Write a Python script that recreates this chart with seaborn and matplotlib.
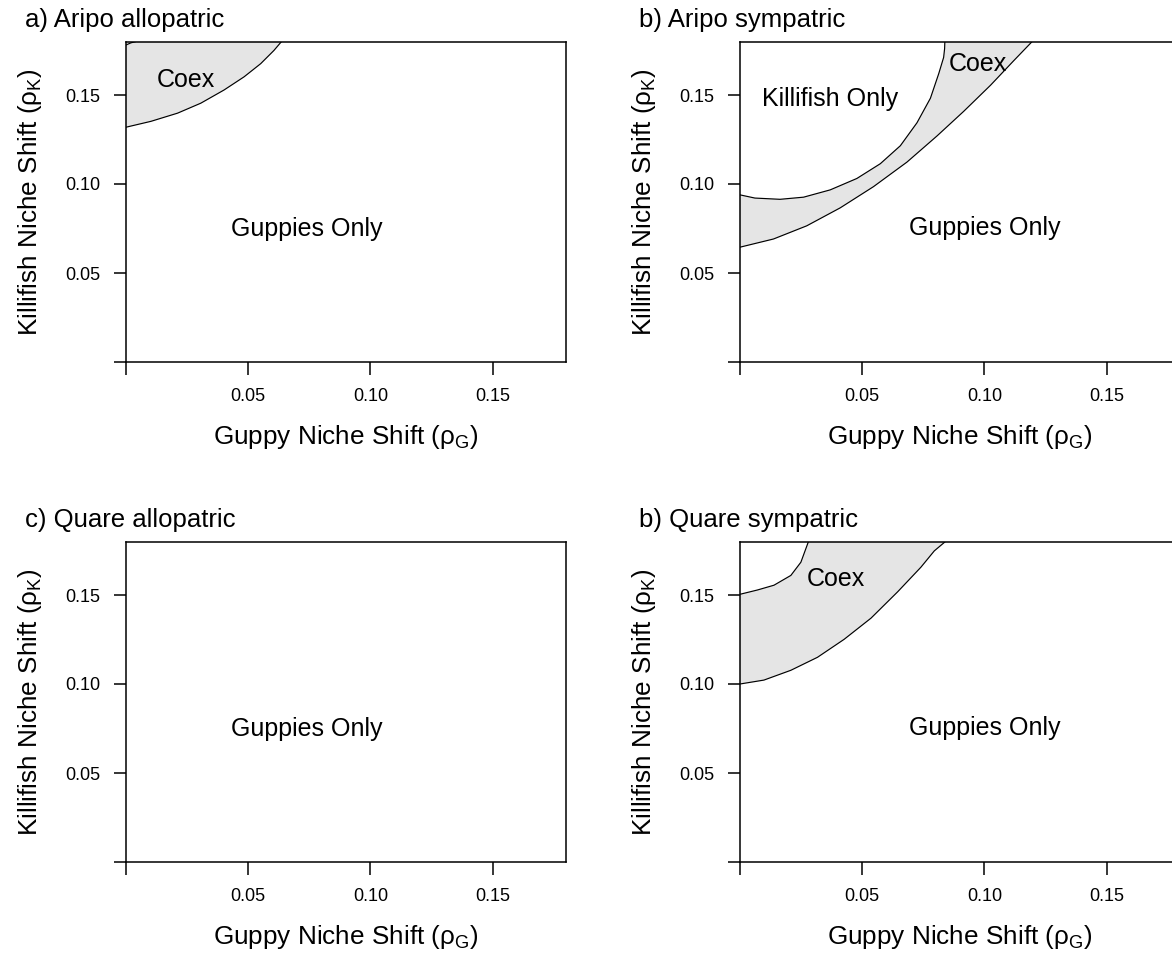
import numpy as np
import matplotlib
matplotlib.use("Agg")
import matplotlib.pyplot as plt
import seaborn as sns

# boundaries of the coexistence region
# a) Aripo allopatric: lower edge of Coex, plus tiny corner at top-left
A_LOW_X = [0.0, 0.0102, 0.0211, 0.0306, 0.0401, 0.0483, 0.0551, 0.0605, 0.0636]
A_LOW_Y = [0.1319, 0.1352, 0.1398, 0.1454, 0.1528, 0.1602, 0.1676, 0.1750, 0.1800]
A_CORNER_X = [0.0, 0.002, 0.004]
A_CORNER_Y = [0.1781, 0.1793, 0.1800]

# b) Aripo sympatric
B_INNER_X = [0.0, 0.0061, 0.0164, 0.0260, 0.0369, 0.0478, 0.0574, 0.0656,
             0.0724, 0.0779, 0.0813, 0.0833, 0.0837, 0.0838]
B_INNER_Y = [0.0939, 0.0921, 0.0914, 0.0926, 0.0967, 0.1031, 0.1114, 0.1215,
             0.1344, 0.1482, 0.1620, 0.1711, 0.1760, 0.1800]
B_OUTER_X = [0.0, 0.0137, 0.0273, 0.0410, 0.0546, 0.0683, 0.0806, 0.0915,
             0.1025, 0.1120, 0.1195]
B_OUTER_Y = [0.0645, 0.0691, 0.0765, 0.0866, 0.0985, 0.1123, 0.1270, 0.1408,
             0.1555, 0.1693, 0.1800]

# d) Quare sympatric
D_INNER_X = [0.0, 0.0071, 0.0139, 0.0208, 0.0249, 0.0280]
D_INNER_Y = [0.1504, 0.1528, 0.1555, 0.1610, 0.1684, 0.1800]
D_OUTER_X = [0.0, 0.0098, 0.0208, 0.0317, 0.0426, 0.0536, 0.0645, 0.0740,
             0.0795, 0.0840]
D_OUTER_Y = [0.1000, 0.1022, 0.1077, 0.1150, 0.1251, 0.1370, 0.1518, 0.1656,
             0.1748, 0.1800]

TITLES = ["a) Aripo allopatric", "b) Aripo sympatric",
          "c) Quare allopatric", "b) Quare sympatric"]
TICKS = [0.0, 0.05, 0.10, 0.15]
TICK_LABELS = ["", "0.05", "0.10", "0.15"]

FILL = "#e5e5e5"
FS = 18

sns.set_theme(style="ticks")
plt.rcParams["font.family"] = ["Liberation Sans", "DejaVu Sans"]
plt.rcParams["axes.linewidth"] = 1.1
plt.rcParams["xtick.major.width"] = 1.1
plt.rcParams["ytick.major.width"] = 1.1
plt.rcParams["axes.edgecolor"] = "black"
plt.rcParams["axes.labelcolor"] = "black"
plt.rcParams["text.color"] = "black"
plt.rcParams["xtick.color"] = "black"
plt.rcParams["ytick.color"] = "black"


def line(ax, xs, ys):
    sns.lineplot(x=xs, y=ys, sort=False, estimator=None, color="black",
                 lw=0.85, ax=ax, zorder=3)


def setup(ax):
    ax.set_xlim(0, 0.18)
    ax.set_ylim(0, 0.18)
    ax.set_xticks(TICKS)
    ax.set_xticklabels(TICK_LABELS)
    ax.set_yticks(TICKS)
    ax.set_yticklabels(TICK_LABELS)
    ax.tick_params(direction="out", length=9, labelsize=13, pad=9.5)
    ax.set_xlabel("Guppy Niche Shift (ρ$_\\mathregular{G}$)", fontsize=18.8, labelpad=13)
    ax.set_ylabel("Killifish Niche Shift (ρ$_\\mathregular{K}$)", fontsize=18.8, labelpad=15)
    for s in ax.spines.values():
        s.set_visible(True)
        s.set_zorder(5)


fig = plt.figure(figsize=(11.72, 9.57), dpi=100)
W, H = 1172, 957
lefts = [126, 740]
bottoms = [362, 862]
axes = []
for r in range(2):
    for c in range(2):
        ax = fig.add_axes([lefts[c] / W, (H - bottoms[r]) / H, 440 / W, 320.4 / H])
        axes.append(ax)
        fig.text((25 + 614 * c) / W, 1 - (27 + 500 * r) / H, TITLES[2 * r + c],
                 fontsize=18.5, ha="left", va="baseline")

ax_a, ax_b, ax_c, ax_d = axes

# a
poly_x = A_LOW_X + A_CORNER_X[::-1]
poly_y = A_LOW_Y + A_CORNER_Y[::-1]
ax_a.fill(poly_x, poly_y, color=FILL, lw=0, zorder=1)
line(ax_a, A_LOW_X, A_LOW_Y)
line(ax_a, A_CORNER_X, A_CORNER_Y)
ax_a.text(0.0245, 0.1583, "Coex", fontsize=FS, ha="center", va="center")
ax_a.text(0.0739, 0.0747, "Guppies Only", fontsize=FS, ha="center", va="center")

# b
ax_b.fill(B_OUTER_X + B_INNER_X[::-1], B_OUTER_Y + B_INNER_Y[::-1],
          color=FILL, lw=0, zorder=1)
line(ax_b, B_INNER_X, B_INNER_Y)
line(ax_b, B_OUTER_X, B_OUTER_Y)
ax_b.text(0.0369, 0.1476, "Killifish Only", fontsize=FS, ha="center", va="center")
ax_b.text(0.0973, 0.1672, "Coex", fontsize=FS, ha="center", va="center")
ax_b.text(0.100, 0.0754, "Guppies Only", fontsize=FS, ha="center", va="center")

# c
ax_c.text(0.0739, 0.0747, "Guppies Only", fontsize=FS, ha="center", va="center")

# d
ax_d.fill(D_OUTER_X + D_INNER_X[::-1], D_OUTER_Y + D_INNER_Y[::-1],
          color=FILL, lw=0, zorder=1)
line(ax_d, D_INNER_X, D_INNER_Y)
line(ax_d, D_OUTER_X, D_OUTER_Y)
ax_d.text(0.0393, 0.1591, "Coex", fontsize=FS, ha="center", va="center")
ax_d.text(0.100, 0.0754, "Guppies Only", fontsize=FS, ha="center", va="center")

for ax in axes:
    setup(ax)

fig.savefig("out.png", dpi=100)
